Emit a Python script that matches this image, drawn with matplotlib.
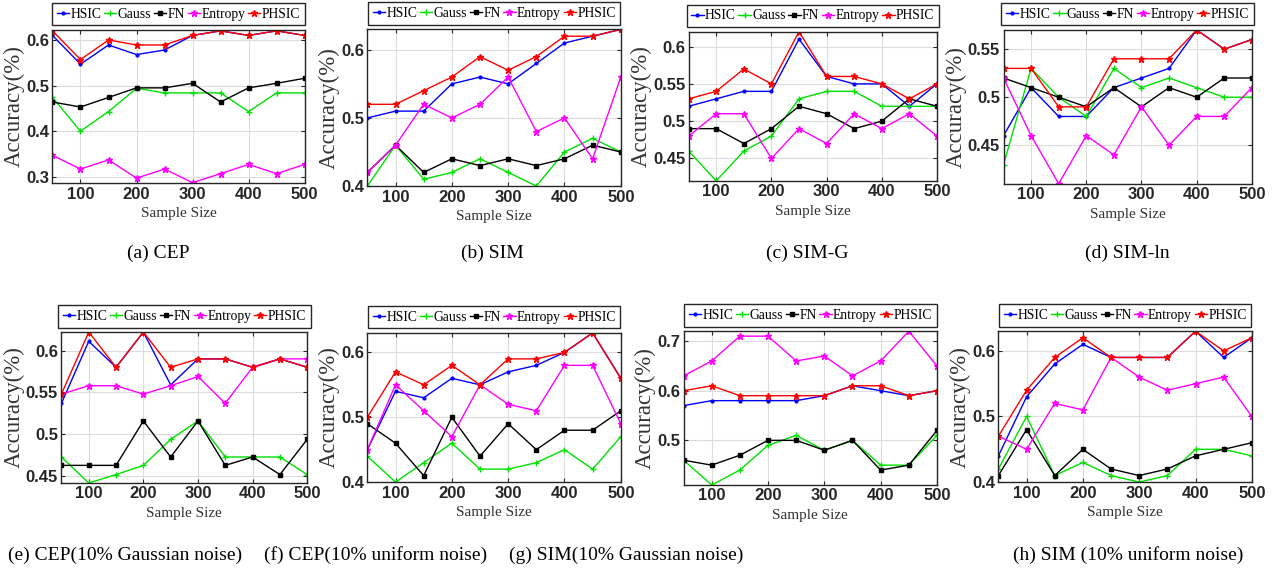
import numpy as np
import matplotlib
matplotlib.use("Agg")
import matplotlib.pyplot as plt

# sample sizes shared by all panels
x = [50, 100, 150, 200, 250, 300, 350, 400, 450, 500]

methods = ["HSIC", "Gauss", "FN", "Entropy", "PHSIC"]
colors = ["#0000FF", "#00E000", "#000000", "#FF00FF", "#FF0000"]
markers = [".", "+", "s", "*", "*"]
msizes = [4, 4, 2.5, 5, 5]

# (a) CEP
cep_hsic = [0.61, 0.547, 0.589, 0.568, 0.578, 0.61, 0.62, 0.61, 0.62, 0.61]
cep_gauss = [0.474, 0.40, 0.443, 0.494, 0.484, 0.484, 0.484, 0.443, 0.484, 0.484]
cep_fn = [0.464, 0.453, 0.474, 0.495, 0.495, 0.505, 0.464, 0.495, 0.505, 0.516]
cep_entropy = [0.347, 0.317, 0.337, 0.297, 0.317, 0.287, 0.307, 0.327, 0.307, 0.327]
cep_phsic = [0.62, 0.557, 0.60, 0.589, 0.589, 0.61, 0.62, 0.61, 0.62, 0.61]

# (b) SIM
sim_hsic = [0.50, 0.51, 0.51, 0.55, 0.56, 0.55, 0.58, 0.61, 0.62, 0.63]
sim_gauss = [0.40, 0.46, 0.41, 0.42, 0.44, 0.42, 0.40, 0.45, 0.47, 0.45]
sim_fn = [0.42, 0.46, 0.42, 0.44, 0.43, 0.44, 0.43, 0.44, 0.46, 0.45]
sim_entropy = [0.42, 0.46, 0.52, 0.50, 0.52, 0.56, 0.48, 0.50, 0.44, 0.56]
sim_phsic = [0.52, 0.52, 0.54, 0.56, 0.59, 0.57, 0.59, 0.62, 0.62, 0.63]

# (c) SIM-G
simg_hsic = [0.52, 0.53, 0.54, 0.54, 0.61, 0.56, 0.55, 0.55, 0.52, 0.55]
simg_gauss = [0.46, 0.42, 0.46, 0.48, 0.53, 0.54, 0.54, 0.52, 0.52, 0.52]
simg_fn = [0.49, 0.49, 0.47, 0.49, 0.52, 0.51, 0.49, 0.50, 0.53, 0.52]
simg_entropy = [0.48, 0.51, 0.51, 0.45, 0.49, 0.47, 0.51, 0.49, 0.51, 0.48]
simg_phsic = [0.53, 0.54, 0.57, 0.55, 0.62, 0.56, 0.56, 0.55, 0.53, 0.55]

# (d) SIM-ln
simln_hsic = [0.46, 0.51, 0.48, 0.48, 0.51, 0.52, 0.53, 0.57, 0.55, 0.56]
simln_gauss = [0.43, 0.53, 0.50, 0.48, 0.53, 0.51, 0.52, 0.51, 0.50, 0.50]
simln_fn = [0.52, 0.51, 0.50, 0.49, 0.51, 0.49, 0.51, 0.50, 0.52, 0.52]
simln_entropy = [0.52, 0.46, 0.41, 0.46, 0.44, 0.49, 0.45, 0.48, 0.48, 0.51]
simln_phsic = [0.53, 0.53, 0.49, 0.49, 0.54, 0.54, 0.54, 0.57, 0.55, 0.56]

# (e) CEP, 10% Gaussian noise
cepg_hsic = [0.537, 0.611, 0.58, 0.622, 0.559, 0.59, 0.59, 0.58, 0.59, 0.58]
cepg_gauss = [0.473, 0.442, 0.452, 0.463, 0.494, 0.516, 0.473, 0.473, 0.473, 0.452]
cepg_fn = [0.463, 0.463, 0.463, 0.516, 0.473, 0.516, 0.463, 0.473, 0.452, 0.494]
cepg_entropy = [0.548, 0.558, 0.558, 0.548, 0.558, 0.569, 0.537, 0.58, 0.59, 0.59]
cepg_phsic = [0.548, 0.622, 0.58, 0.622, 0.58, 0.59, 0.59, 0.58, 0.59, 0.58]

# (f) CEP, 10% uniform noise
cepu_hsic = [0.45, 0.54, 0.53, 0.56, 0.55, 0.57, 0.58, 0.60, 0.63, 0.56]
cepu_gauss = [0.44, 0.40, 0.43, 0.46, 0.42, 0.42, 0.43, 0.45, 0.42, 0.47]
cepu_fn = [0.49, 0.46, 0.41, 0.50, 0.44, 0.49, 0.45, 0.48, 0.48, 0.51]
cepu_entropy = [0.45, 0.55, 0.51, 0.47, 0.55, 0.52, 0.51, 0.58, 0.58, 0.49]
cepu_phsic = [0.50, 0.57, 0.55, 0.58, 0.55, 0.59, 0.59, 0.60, 0.63, 0.56]

# (g) SIM, 10% Gaussian noise
simgn_hsic = [0.57, 0.58, 0.58, 0.58, 0.58, 0.59, 0.61, 0.60, 0.59, 0.60]
simgn_gauss = [0.46, 0.41, 0.44, 0.49, 0.51, 0.48, 0.50, 0.45, 0.45, 0.51]
simgn_fn = [0.46, 0.45, 0.47, 0.50, 0.50, 0.48, 0.50, 0.44, 0.45, 0.52]
simgn_entropy = [0.63, 0.66, 0.71, 0.71, 0.66, 0.67, 0.63, 0.66, 0.72, 0.65]
simgn_phsic = [0.60, 0.61, 0.59, 0.59, 0.59, 0.59, 0.61, 0.61, 0.59, 0.60]

# (h) SIM, 10% uniform noise
simun_hsic = [0.44, 0.53, 0.58, 0.61, 0.59, 0.59, 0.59, 0.63, 0.59, 0.62]
simun_gauss = [0.42, 0.50, 0.41, 0.43, 0.41, 0.40, 0.41, 0.45, 0.45, 0.44]
simun_fn = [0.41, 0.48, 0.41, 0.45, 0.42, 0.41, 0.42, 0.44, 0.45, 0.46]
simun_entropy = [0.47, 0.45, 0.52, 0.51, 0.59, 0.56, 0.54, 0.55, 0.56, 0.50]
simun_phsic = [0.47, 0.54, 0.59, 0.62, 0.59, 0.59, 0.59, 0.63, 0.60, 0.62]

captions = ["(a) CEP", "(b) SIM", "(c) SIM-G", "(d) SIM-ln",
            "(e) CEP(10% Gaussian noise)", "(f) CEP(10% uniform noise)",
            "(g) SIM(10% Gaussian noise)", "(h) SIM (10% uniform noise)"]

panels = [
    [cep_hsic, cep_gauss, cep_fn, cep_entropy, cep_phsic],
    [sim_hsic, sim_gauss, sim_fn, sim_entropy, sim_phsic],
    [simg_hsic, simg_gauss, simg_fn, simg_entropy, simg_phsic],
    [simln_hsic, simln_gauss, simln_fn, simln_entropy, simln_phsic],
    [cepg_hsic, cepg_gauss, cepg_fn, cepg_entropy, cepg_phsic],
    [cepu_hsic, cepu_gauss, cepu_fn, cepu_entropy, cepu_phsic],
    [simgn_hsic, simgn_gauss, simgn_fn, simgn_entropy, simgn_phsic],
    [simun_hsic, simun_gauss, simun_fn, simun_entropy, simun_phsic],
]

yticks = [[0.3, 0.4, 0.5, 0.6], [0.4, 0.5, 0.6], [0.45, 0.5, 0.55, 0.6], [0.45, 0.5, 0.55],
          [0.45, 0.5, 0.55, 0.6], [0.4, 0.5, 0.6], [0.5, 0.6, 0.7], [0.4, 0.5, 0.6]]
ylims = [(0.286, 0.622), (0.40, 0.63), (0.42, 0.62), (0.41, 0.57),
         (0.442, 0.622), (0.40, 0.63), (0.41, 0.72), (0.40, 0.63)]

# axes boxes [left, bottom, width, height] in figure fraction
boxes = [
    [0.041, 0.682, 0.197, 0.266],
    [0.287, 0.677, 0.198, 0.272],
    [0.538, 0.686, 0.194, 0.259],
    [0.784, 0.681, 0.194, 0.267],
    [0.048, 0.1615, 0.192, 0.262],
    [0.287, 0.163, 0.198, 0.259],
    [0.534, 0.158, 0.198, 0.267],
    [0.780, 0.163, 0.198, 0.262],
]
cap_x = [158, 492, 807, 1127, 125, 376, 626, 1128]

serif = ["Liberation Serif", "DejaVu Serif"]

fig = plt.figure(figsize=(12.8, 5.76), dpi=100)
axes = []

for i, series in enumerate(panels):
    ax = fig.add_axes(boxes[i])
    axes.append(ax)
    for j, ys in enumerate(series):
        ax.plot(x, ys, color=colors[j], marker=markers[j], markersize=msizes[j],
                linewidth=1.0, label=methods[j])
    ax.set_xlim(50, 500)
    ax.set_ylim(*ylims[i])
    ax.set_xticks([100, 200, 300, 400, 500])
    ax.set_yticks(yticks[i])
    ax.set_yticklabels([f"{t:g}" for t in yticks[i]])
    ax.grid(True, color="#dcdcdc", linewidth=0.8)
    ax.set_axisbelow(True)
    ax.tick_params(direction="in", length=3, pad=2.5, top=True, right=True, color="#262626")
    for lab in ax.get_xticklabels() + ax.get_yticklabels():
        lab.set_fontfamily("Liberation Sans")
        lab.set_fontweight("bold")
        lab.set_fontsize(12)
        lab.set_color("#262626")
    for sp in ax.spines.values():
        sp.set_color("#262626")
        sp.set_linewidth(1.0)
    ax.set_xlabel("Sample Size", family=serif, fontsize=11, color="#333333", labelpad=4)
    ax.set_ylabel("Accuracy(%)", family=serif, fontsize=16.5, color="#333333")
    leg = ax.legend(loc="lower center", bbox_to_anchor=(0.5, 1.03), ncol=5,
                    prop={"family": serif, "size": 9.8},
                    handlelength=0.9, handletextpad=0.1, columnspacing=0.2,
                    borderpad=0.35, borderaxespad=0, fancybox=False, framealpha=1,
                    edgecolor="#262626")
    leg.get_frame().set_linewidth(1.0)
    row_y = 253 if i < 4 else 555
    fig.text(cap_x[i] / 1280, 1 - row_y / 576, captions[i], family=serif,
             fontsize=14, ha="center", va="center")

# put each y-label just left of its tick labels
fig.canvas.draw()
rend = fig.canvas.get_renderer()
for ax in axes:
    bb = ax.get_window_extent(rend)
    left = min(t.get_window_extent(rend).x0 for t in ax.get_yticklabels())
    ax.yaxis.set_label_coords((left - 1 - bb.x0) / bb.width, 0.5)

fig.savefig("out.png", dpi=100)
